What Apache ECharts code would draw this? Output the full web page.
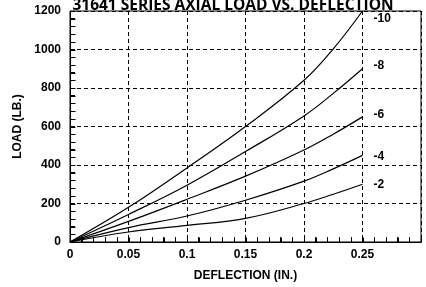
<!DOCTYPE html>
<html>
<head>
<meta charset="utf-8">
<script src="https://cdn.jsdelivr.net/npm/echarts@6/dist/echarts.min.js"></script>
<style>
  html, body { margin: 0; padding: 0; background: #fff; }
  #chart { width: 426px; height: 287px; }
</style>
</head>
<body>
<div id="chart"></div>
<script>
// deflection (in.) at which loads were read
const deflection = [0, 0.05, 0.1, 0.15, 0.2, 0.225, 0.25];
const xTickLabels = ['0', '0.05', '0.1', '0.15', '0.2', '0.25'];
const xTickValues = [0, 0.05, 0.1, 0.15, 0.2, 0.25];

// load (lb.) per hose size
const load10 = [0, 180, 385, 600, 840, 1003, 1200];
const load8 = [0, 143, 295, 470, 655, 772, 900];
const load6 = [0, 107, 222, 342, 478, 560, 650];
const load4 = [0, 75, 135, 217, 316, 380, 450];
const load2 = [0, 52, 86, 123, 200, 248, 300];

const seriesNames = ['-10', '-8', '-6', '-4', '-2'];
const seriesData = [load10, load8, load6, load4, load2];

const font = 'Liberation Sans';

// small tick marks along the bottom and left edges (every 0.01 in. / 40 lb.)
const tickMarks = [];
for (let i = 0; i <= 30; i++) tickMarks.push([i / 100, 0, 0]);
for (let i = 0; i <= 30; i++) tickMarks.push([0, i * 40, 1]);

const chart = echarts.init(document.getElementById('chart'));

// label offsets so the size tags sit like in the original
const labelOffsets = [[3, 8], [3, -3], [3, -2], [3, 1], [3, 0]];

const series = seriesNames.map((name, i) => ({
    name: name,
    type: 'line',
    smooth: 0.4,
    symbol: 'none',
    data: deflection.map((d, j) => [d, seriesData[i][j]]),
    lineStyle: { color: '#000', width: 1.2 },
    endLabel: {
        show: true,
        formatter: name,
        color: '#000',
        fontFamily: font,
        fontWeight: 'bold',
        fontSize: 12,
        offset: labelOffsets[i]
    }
}));

series.push({
    type: 'custom',
    silent: true,
    clip: false,
    z: 5,
    encode: { x: 0, y: 1 },
    data: tickMarks,
    renderItem: function (params, api) {
        const p = api.coord([api.value(0), api.value(1)]);
        const x = Math.round(p[0]) + 0.5;
        const y = Math.round(p[1]) + 0.5;
        const shape = api.value(2) === 0
            ? { x1: x, y1: y, x2: x, y2: y - 5 }
            : { x1: x, y1: y, x2: x + 5, y2: y };
        return { type: 'line', shape: shape, style: { stroke: '#000', lineWidth: 1 } };
    }
});

chart.setOption({
    animation: false,
    title: {
        text: '31641 SERIES AXIAL LOAD VS. DEFLECTION',
        left: 228,
        textAlign: 'center',
        top: -7,
        textStyle: {
            fontFamily: 'Open Sans',
            fontWeight: 'bold',
            fontSize: 15.5,
            color: '#000'
        }
    },
    grid: {
        left: 70,
        right: 5,
        top: 11,
        bottom: 42,
        show: true,
        borderColor: '#000',
        borderWidth: 1
    },
    xAxis: {
        type: 'value',
        min: 0,
        max: 0.3,
        interval: 0.05,
        name: 'DEFLECTION (IN.)',
        nameLocation: 'middle',
        nameGap: 28,
        nameTextStyle: { fontFamily: font, fontWeight: 'bold', fontSize: 12, color: '#000' },
        axisLine: { show: true, lineStyle: { color: '#000' } },
        axisTick: { show: true, inside: true, length: 5, lineStyle: { color: '#000', width: 1 } },
        minorTick: { show: true, splitNumber: 5, length: 5, lineStyle: { color: '#000', width: 1 } },
        axisLabel: {
            margin: 7,
            fontFamily: font,
            fontWeight: 'bold',
            fontSize: 12,
            color: '#000',
            formatter: function (v) {
                const idx = xTickValues.findIndex(d => Math.abs(d - v) < 1e-9);
                return idx >= 0 ? xTickLabels[idx] : '';
            }
        },
        splitLine: { show: true, lineStyle: { color: '#000', type: [4, 3], width: 1 } }
    },
    yAxis: {
        type: 'value',
        min: 0,
        max: 1200,
        interval: 200,
        name: 'LOAD (LB.)',
        nameLocation: 'middle',
        nameGap: 45,
        nameTextStyle: { fontFamily: font, fontWeight: 'bold', fontSize: 12, color: '#000' },
        axisLine: { show: true, lineStyle: { color: '#000' } },
        axisTick: { show: true, inside: true, length: 5, lineStyle: { color: '#000', width: 1 } },
        minorTick: { show: true, splitNumber: 5, length: 5, lineStyle: { color: '#000', width: 1 } },
        axisLabel: {
            margin: 9,
            fontFamily: font,
            fontWeight: 'bold',
            fontSize: 12,
            color: '#000',
            formatter: function (v) { return String(v); }
        },
        splitLine: { show: true, lineStyle: { color: '#000', type: [4, 3], width: 1 } }
    },
    series: series
});
</script>
</body>
</html>
